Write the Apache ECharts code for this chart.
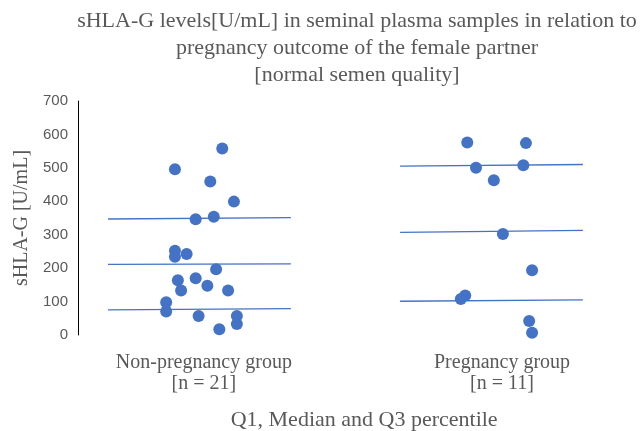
<!DOCTYPE html>
<html>
<head>
<meta charset="utf-8">
<script src="https://cdn.jsdelivr.net/npm/echarts@6/dist/echarts.min.js"></script>
<style>html,body{margin:0;padding:0;background:#fff}#c{width:640px;height:431px}</style>
</head>
<body>
<div id="c"></div>
<script>
// Group names / labels
var groups = ['Non-pregnancy group\n[n = 21]', 'Pregnancy group\n[n = 11]'];
var yTicks = [0, 100, 200, 300, 400, 500, 600, 700];

// Non-pregnancy group: values and horizontal jitter offsets
var nonPregValues = [558, 496, 459, 399, 354, 346, 252, 242, 234, 197, 170, 164, 147, 133, 133, 98, 70, 57, 57, 33, 17];
var nonPregJitter = [0.078, -0.084, 0.037, 0.118, 0.049, -0.013, -0.084, -0.044, -0.084, 0.057, -0.013, -0.074, 0.027, -0.063, 0.098, -0.114, -0.114, -0.003, 0.128, 0.128, 0.068];

// Pregnancy group: values and jitter offsets
var pregValues = [576, 574, 508, 500, 463, 302, 194, 118, 108, 42, 7];
var pregJitter = [-0.083, 0.118, 0.109, -0.053, 0.008, 0.039, 0.139, -0.090, -0.105, 0.129, 0.139];

// Q1, Median, Q3 lines: [start value, end value]
var nonPregQ = [[75, 79], [211, 213], [347, 351]];
var pregQ = [[101, 105], [307, 313], [505, 510]];
var halfWidth = 0.313;

var blue = '#4472C4';
var grey = '#595959';

function pts(center, vals, jit) {
  return vals.map(function (v, i) { return [center + jit[i], v]; });
}
function qLines(center, q) {
  return q.map(function (p) {
    return {
      type: 'line', symbol: 'none', silent: true, z: 1,
      lineStyle: { color: blue, width: 1.3 },
      data: [[center - halfWidth, p[0]], [center + halfWidth, p[1]]]
    };
  });
}

var series = [].concat(qLines(1, nonPregQ), qLines(2, pregQ), [
  { type: 'scatter', symbolSize: 12, z: 3, itemStyle: { color: blue, opacity: 1 }, data: pts(1, nonPregValues, nonPregJitter) },
  { type: 'scatter', symbolSize: 12, z: 3, itemStyle: { color: blue, opacity: 1 }, data: pts(2, pregValues, pregJitter) }
]);

var serif = '"Liberation Serif", "Times New Roman", serif';

var chart = echarts.init(document.getElementById('c'));
chart.setOption({
  animation: false,
  title: {
    text: 'sHLA-G levels[U/mL] in seminal plasma samples in relation to\npregnancy outcome of the female partner\n[normal semen quality]',
    left: 352, top: 3, textAlign: 'center',
    textStyle: { fontFamily: serif, fontSize: 22, fontWeight: 'normal', color: grey, lineHeight: 27, align: 'center' }
  },
  grid: { left: 78, right: 31.7, top: 101, bottom: 96, outerBoundsMode: 'none', containLabel: false },
  xAxis: {
    type: 'value', min: 0.584, max: 2.4,
    axisLine: { show: false }, axisTick: { show: false }, splitLine: { show: false },
    axisLabel: {
      customValues: [1.015, 2.036],
      formatter: function (v) { return v < 1.5 ? groups[0] : groups[1]; },
      fontFamily: serif, fontSize: 20, color: grey, lineHeight: 21, margin: 17
    },
    name: 'Q1, Median and Q3 percentile', nameLocation: 'middle', nameGap: 74,
    nameTextStyle: { fontFamily: serif, fontSize: 22, color: grey, padding: [0, 0, 0, 42] }
  },
  yAxis: {
    type: 'value', min: yTicks[0], max: yTicks[yTicks.length - 1], interval: 100,
    axisLine: { show: true, lineStyle: { color: '#000', width: 1 } },
    axisTick: { show: false }, splitLine: { show: false },
    axisLabel: { fontFamily: '"Liberation Sans", Arial, sans-serif', fontSize: 15, color: grey, margin: 10 },
    name: 'sHLA-G [U/mL]', nameLocation: 'middle', nameGap: 46, nameRotate: 90,
    nameTextStyle: { fontFamily: serif, fontSize: 20, color: grey }
  },
  series: series
});
</script>
</body>
</html>
